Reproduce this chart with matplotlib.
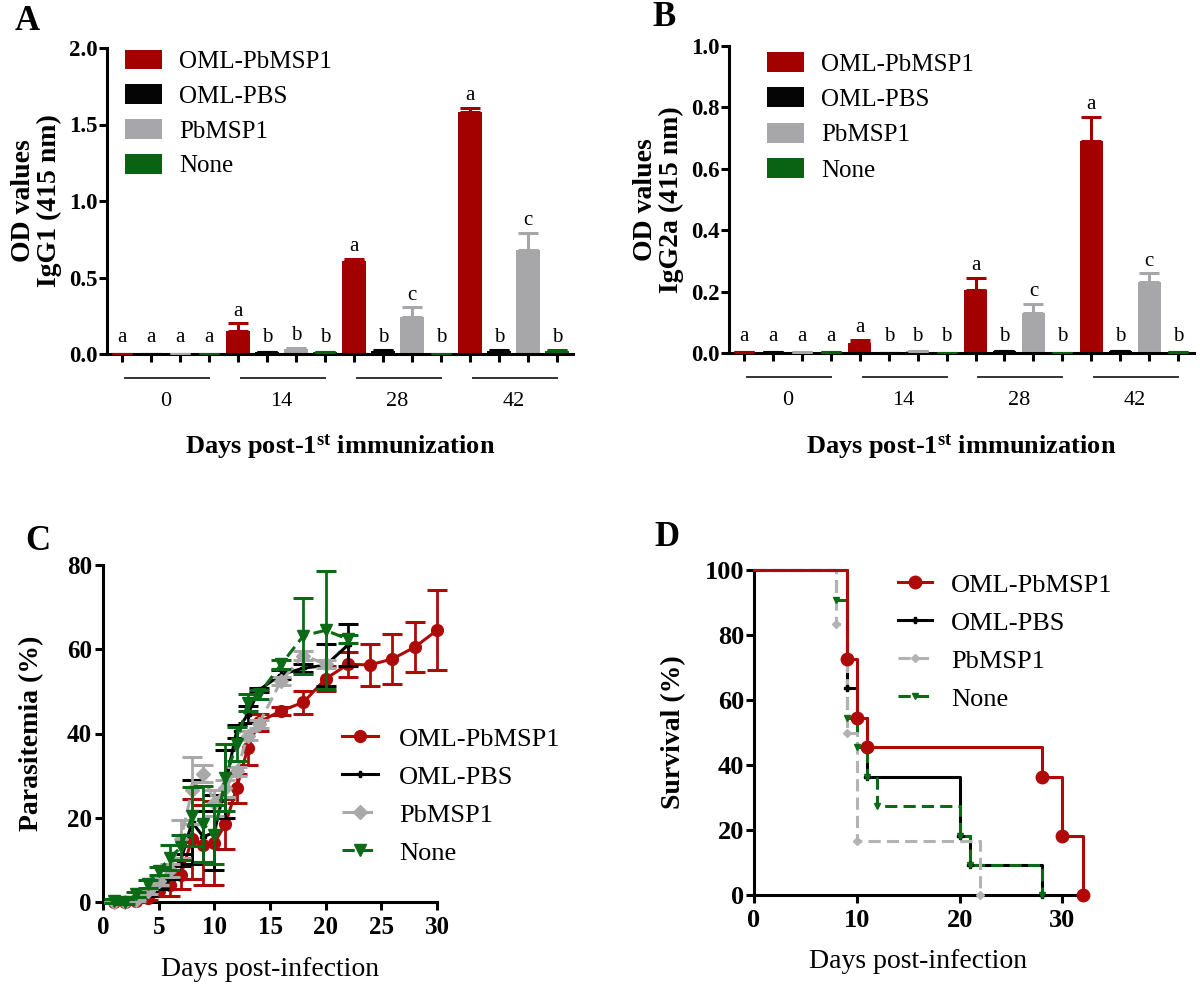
import numpy as np
import matplotlib
matplotlib.use('Agg')
import matplotlib.pyplot as plt
import matplotlib.transforms as mtransforms
from matplotlib.lines import Line2D

plt.rcParams['font.family'] = ['Liberation Serif', 'DejaVu Serif']
plt.rcParams['mathtext.fontset'] = 'custom'
plt.rcParams['mathtext.rm'] = 'Liberation Serif'
plt.rcParams['mathtext.bf'] = 'Liberation Serif:bold'
plt.rcParams['mathtext.it'] = 'Liberation Serif:italic'

# ---------------- data ----------------
groups = ['OML-PbMSP1', 'OML-PBS', 'PbMSP1', 'None']
bar_colors = ['#A30000', '#050505', '#A7A7A9', '#0A6312']
days_imm = ['0', '14', '28', '42']

# Panel A: IgG1 OD (rows = day, columns = group)
igg1_mean = [[0.003, 0.003, 0.003, 0.003],
             [0.15, 0.01, 0.03, 0.01],
             [0.61, 0.02, 0.245, 0.003],
             [1.58, 0.02, 0.68, 0.02]]
igg1_err = [[0, 0, 0, 0],
            [0.05, 0.003, 0.012, 0.003],
            [0.01, 0.005, 0.06, 0],
            [0.03, 0.005, 0.11, 0.005]]
igg1_letters = [['a', 'a', 'a', 'a'],
                ['a', 'b', 'b', 'b'],
                ['a', 'b', 'c', 'b'],
                ['a', 'b', 'c', 'b']]

# Panel B: IgG2a OD
igg2a_mean = [[0.002, 0.004, 0.004, 0.004],
              [0.033, 0.0, 0.005, 0.0],
              [0.205, 0.005, 0.13, 0.0],
              [0.69, 0.005, 0.23, 0.003]]
igg2a_err = [[0, 0, 0, 0],
             [0.01, 0, 0.002, 0],
             [0.04, 0, 0.03, 0],
             [0.08, 0, 0.03, 0]]
igg2a_letters = [['a', 'a', 'a', 'a'],
                 ['a', 'b', 'b', 'b'],
                 ['a', 'b', 'c', 'b'],
                 ['a', 'b', 'c', 'b']]

# Panel C: parasitemia (%)
para_days_red = [1, 2, 3, 4, 5, 6, 7, 8, 9, 10, 11, 12, 13, 14, 16, 18, 20, 22, 24, 26, 28, 30]
para_red = [0, 0, 0.3, 1, 2.5, 4, 6.5, 15, 13.5, 14, 18.5, 27, 36.5, 42.7, 45.4, 47.4, 53, 56.4, 56.3, 57.7, 60.5, 64.5]
para_red_err = [0, 0, 0.2, 0.5, 1, 2.5, 3.5, 9.5, 9.5, 10, 6, 3.5, 4, 2, 1, 2.7, 3, 3, 5, 6, 6, 9.5]

para_days_black = [1, 2, 3, 4, 5, 6, 7, 8, 9, 10, 11, 12, 13, 14, 16, 18, 20, 22]
para_black = [0, 0, 0.5, 2, 4, 6.5, 10, 19, 15.5, 16.5, 28, 40.5, 44.5, 50.3, 54, 55.5, 56.2, 61]
para_black_err = [0, 0, 0.3, 0.5, 1, 1, 1.5, 10, 6, 9, 8, 1.5, 2, 0.5, 1, 1, 5, 5]

para_days_gray = [1, 2, 3, 4, 5, 6, 7, 8, 9, 10, 11, 12, 13, 14, 16, 18, 20]
para_gray = [0, 0, 0.5, 2.5, 5, 7.5, 15, 26.5, 30.5, 23.5, 27, 31, 39.5, 42.3, 52.5, 58.5, 56.5]
para_gray_err = [0, 0, 0.3, 0.5, 1, 1.5, 4.5, 8, 2, 3, 2, 1, 1, 1, 1, 1, 1]

para_days_green = [1, 2, 3, 4, 5, 6, 7, 8, 9, 10, 11, 12, 13, 14, 16, 18, 20, 22]
para_green = [0.3, 0.1, 1.8, 4.3, 7.3, 10.5, 13, 20.3, 18.5, 16, 29.5, 37.5, 47.3, 49.3, 56.4, 63.2, 64.5, 62.4]
para_green_err = [0.5, 0.5, 0.5, 1, 1, 3, 3, 7, 9, 7, 8, 4, 2, 1, 1, 9, 14, 1]

# Panel D: survival (%) step points (time, survival after event)
surv_t_red = [0, 9, 10, 11, 28, 30, 32]
surv_red = [100, 72.7, 54.5, 45.5, 36.4, 18.2, 0]
surv_t_black = [0, 9, 10, 11, 20, 21, 28]
surv_black = [100, 63.6, 54.5, 36.4, 18.2, 9.1, 0]
surv_t_gray = [0, 8, 9, 10, 22]
surv_gray = [100, 83.3, 50, 16.7, 0]
surv_t_green = [0, 8, 9, 10, 11, 12, 20, 21, 28]
surv_green = [100, 90.9, 54.5, 45.5, 36.4, 27.3, 18.2, 9.1, 0]

# ---------------- figure ----------------
fig = plt.figure(figsize=(12, 9.84), dpi=100)

SPW = 2.2
TICKW = 2.2


def style_axes(ax, ticksize, xpad=4, ypad=1):
    for s in ['top', 'right']:
        ax.spines[s].set_visible(False)
    for s in ['left', 'bottom']:
        ax.spines[s].set_linewidth(SPW)
    ax.tick_params(axis='both', direction='out', length=6, width=TICKW,
                   labelsize=ticksize)
    ax.tick_params(axis='x', pad=xpad)
    ax.tick_params(axis='y', pad=ypad)
    for lab in ax.get_xticklabels() + ax.get_yticklabels():
        lab.set_fontweight('bold')


def bar_panel(ax, means, errs, letters, ymax, ystep, ylabel):
    means = np.array(means)
    errs = np.array(errs)
    n_days, n_g = means.shape
    for g in range(n_g):
        x = np.arange(n_days) * n_g + g
        ax.bar(x, means[:, g], width=0.8, color=bar_colors[g], label=groups[g],
               yerr=[np.zeros(n_days), errs[:, g]],
               error_kw=dict(ecolor=bar_colors[g], elinewidth=2.2, capsize=7,
                             capthick=2.2, zorder=3), zorder=2)
        for d in range(n_days):
            top = means[d, g] + errs[d, g]
            ypos = max(top + 0.025 * ymax, 0.04 * ymax)
            ax.text(x[d], ypos, letters[d][g], ha='center', va='baseline',
                    fontsize=15)
    ax.set_xlim(-0.52, n_days * n_g - 0.45)
    ax.set_ylim(0, ymax)
    ax.set_yticks(np.arange(0, ymax + 1e-9, ystep))
    ax.set_yticklabels(['%.1f' % v for v in np.arange(0, ymax + 1e-9, ystep)])
    ax.set_xticks(np.arange(n_days * n_g))
    ax.set_xticklabels([])
    style_axes(ax, 16.5)
    trans = mtransforms.blended_transform_factory(ax.transData, ax.transAxes)
    for d in range(n_days):
        ax.plot([d * n_g + 0.1, d * n_g + n_g - 1], [-0.078, -0.078],
                transform=trans, color='#333333', lw=1.4, clip_on=False)
        ax.text(d * n_g + (n_g - 1) / 2, -0.154, days_imm[d], transform=trans,
                ha='center', va='center', fontsize=16)
    ax.set_xlabel(r'Days post-1$^{\mathbf{st}}$ immunization', fontsize=19,
                  fontweight='bold', va='center')
    ax.xaxis.set_label_coords(0.5, -0.304)
    ax.set_ylabel(ylabel, fontsize=20, fontweight='bold', linespacing=1.05,
                  va='center')
    ax.yaxis.set_label_coords(-0.152, 0.5)


# Panel A
axA = fig.add_axes([107 / 1200, 1 - 354 / 984, 466 / 1200, 306 / 984])
bar_panel(axA, igg1_mean, igg1_err, igg1_letters, 2.0, 0.5,
          'OD values\nIgG1 (415 nm)')
axA.legend(loc='upper left', bbox_to_anchor=(0.039, 0.995), frameon=False,
           fontsize=18, handlelength=1.48, handleheight=0.84,
           handletextpad=0.68, labelspacing=0.45, borderpad=0,
           borderaxespad=0)

# Panel B
axB = fig.add_axes([729 / 1200, 1 - 353 / 984, 465 / 1200, 307 / 984])
bar_panel(axB, igg2a_mean, igg2a_err, igg2a_letters, 1.0, 0.2,
          'OD values\nIgG2a (415 nm)')
axB.legend(loc='upper left', bbox_to_anchor=(0.082, 0.98), frameon=False,
           fontsize=18, handlelength=1.48, handleheight=0.84,
           handletextpad=0.68, labelspacing=0.47, borderpad=0,
           borderaxespad=0)

# Panel C
line_colors = ['#AE0A0A', '#000000', '#A9A9A9', '#0B6A16']
axC = fig.add_axes([103 / 1200, 1 - 902 / 984, 334 / 1200, 337 / 984])
series = [
    (para_days_red, para_red, para_red_err, '-', 'o', 8.5),
    (para_days_black, para_black, para_black_err, '-', 'P', 4.5),
    (para_days_gray, para_gray, para_gray_err, (0, (4, 2)), 'D', 7),
    (para_days_green, para_green, para_green_err, (0, (4, 2)), 'v', 9),
]
handlesC = []
for i, (dd, vv, ee, ls, mk, ms) in enumerate(series):
    c = line_colors[i]
    axC.errorbar(dd, vv, yerr=ee, fmt='none', ecolor=c, elinewidth=2.0,
                 capsize=7, capthick=2.2, zorder=3 + i, clip_on=False)
    ln, = axC.plot(dd, vv, color=c, ls=ls, lw=2.2, marker=mk, ms=ms,
                   mec=c, mfc=c, label=groups[i], zorder=3 + i, clip_on=False)
    handlesC.append(ln)
axC.set_xlim(0, 30)
axC.set_ylim(0, 80)
axC.set_xticks([0, 5, 10, 15, 20, 25, 30])
axC.set_yticks([0, 20, 40, 60, 80])
style_axes(axC, 18, xpad=4, ypad=2)
axC.set_xlabel('Days post-infection', fontsize=20, va='center')
axC.xaxis.set_label_coords(0.5, -0.2)
axC.set_ylabel('Parasitemia (%)', fontsize=20, fontweight='bold', va='center')
axC.yaxis.set_label_coords(-0.213, 0.5)
axC.legend(handles=handlesC, loc='upper left', bbox_to_anchor=(0.716, 0.519),
           frameon=False, fontsize=19, handlelength=1.36, handletextpad=0.8,
           labelspacing=0.55, borderpad=0, borderaxespad=0)

# Panel D
axD = fig.add_axes([754 / 1200, 1 - 895 / 984, 329 / 1200, 325 / 984])
surv_series = [
    (surv_t_black, surv_black, '#000000', '-', 'P', 4.5),
    (surv_t_green, surv_green, '#0B6A16', (0, (4, 2)), 'v', 5),
    (surv_t_gray, surv_gray, '#B3B3B3', (0, (4, 2)), 'D', 4.5),
    (surv_t_red, surv_red, '#AE0A0A', '-', 'o', 9),
]
for tt, ss, c, ls, mk, ms in surv_series:
    axD.step(tt, ss, where='post', color=c, ls=ls, lw=2.2, clip_on=False,
             zorder=3)
    axD.plot(tt[1:], ss[1:], ls='none', marker=mk, ms=ms, color=c,
             clip_on=False, zorder=4)
legend_style = {'OML-PbMSP1': ('#AE0A0A', '-', 'o', 9),
                'OML-PBS': ('#000000', '-', 'P', 4.5),
                'PbMSP1': ('#B3B3B3', (0, (4, 2)), 'D', 4.5),
                'None': ('#0B6A16', (0, (4, 2)), 'v', 5)}
handlesD = []
for g in groups:
    c, ls, mk, ms = legend_style[g]
    handlesD.append(Line2D([], [], color=c, ls=ls, lw=2.2, marker=mk, ms=ms,
                           label=g))
axD.set_xlim(0, 32)
axD.set_ylim(0, 100)
axD.set_xticks([0, 10, 20, 30])
axD.set_yticks([0, 20, 40, 60, 80, 100])
style_axes(axD, 19, xpad=4, ypad=1)
axD.set_xlabel('Days post-infection', fontsize=20, va='center')
axD.xaxis.set_label_coords(0.5, -0.206)
axD.set_ylabel('Survival (%)', fontsize=20, fontweight='bold', va='center')
axD.yaxis.set_label_coords(-0.243, 0.5)
axD.legend(handles=handlesD, labels=groups, loc='upper left',
           bbox_to_anchor=(0.438, 0.99), frameon=False, fontsize=19,
           handlelength=1.29, handletextpad=0.72, labelspacing=0.55,
           borderpad=0, borderaxespad=0)

# Panel letters
for lab, x, y in [('A', 27, 22), ('B', 664, 17), ('C', 38, 542), ('D', 667, 537)]:
    fig.text(x / 1200, 1 - y / 984, lab, fontsize=25, fontweight='bold',
             ha='center', va='center')

fig.savefig('out.png', dpi=100)
